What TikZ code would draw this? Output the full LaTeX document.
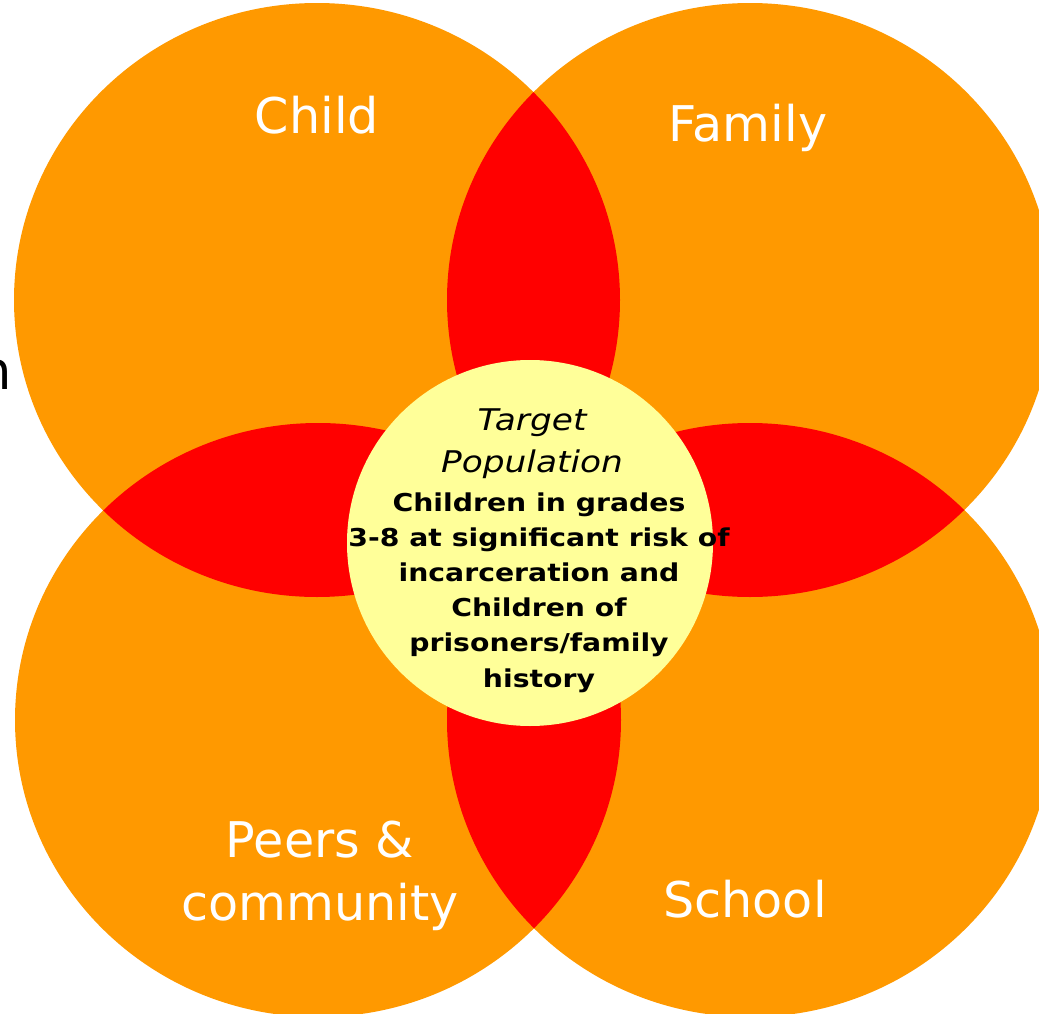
\documentclass[tikz,border=0pt]{standalone}
\usepackage{fontspec}
\setmainfont{DejaVu Sans}
\newfontfamily\corefont[FakeStretch=1.15]{DejaVu Sans}
\usetikzlibrary{positioning}
\definecolor{petal}{HTML}{FF9900}
\definecolor{overlap}{HTML}{FF0000}
\definecolor{core}{HTML}{FFFF99}

\begin{document}
\begin{tikzpicture}[x=0.02cm, y=-0.02cm,
    petalsize/.style={x radius=303, y radius=297},
    lbl/.style={text=white, font=\fontsize{28}{35.7}\selectfont, align=center, anchor=base}]
  \useasboundingbox (0,0) rectangle (1039,1014);
  \clip (0,0) rectangle (1039,1014);

  % the four circles
  \coordinate (ch) at (317,300);
  \coordinate (fa) at (750,300);
  \coordinate (pe) at (318,720);
  \coordinate (sc) at (750,720);
  \foreach \c in {ch,fa,pe,sc}
    \fill[petal] (\c) ellipse [petalsize];

  % overlaps of neighbouring circles
  \foreach \a/\b in {ch/fa, ch/pe, fa/sc, pe/sc} {
    \begin{scope}
      \clip (\a) ellipse [petalsize];
      \fill[overlap] (\b) ellipse [petalsize];
    \end{scope}
  }

  % centre disc
  \fill[core] (530,543) circle [radius=183];

  % labels (base = baseline of the last line)
  \node[lbl] (child)  at (317,133) {Child};
  \node[lbl] (family) at (748,141) {Family};
  \node[lbl] (peers)  at (320,920) {Peers \&\\community};
  \node[lbl] (school) at (745,917) {School};

  \node[anchor=base, align=center, font=\corefont\itshape\fontsize{17}{23.8}\selectfont]
    (target) at (532,472) {Target\\Population};
  \node[anchor=base, align=center, font=\corefont\bfseries\fontsize{14}{20}\selectfont]
    (group) at (539,687) {Children in grades\\3-8 at significant risk of\\incarceration and\\Children of\\prisoners/family\\history};

  % text cut off at the left edge
  \node[anchor=base east, inner sep=0pt, font=\fontsize{30}{36}\selectfont] (cut) at (12,389) {n};
\end{tikzpicture}
\end{document}
